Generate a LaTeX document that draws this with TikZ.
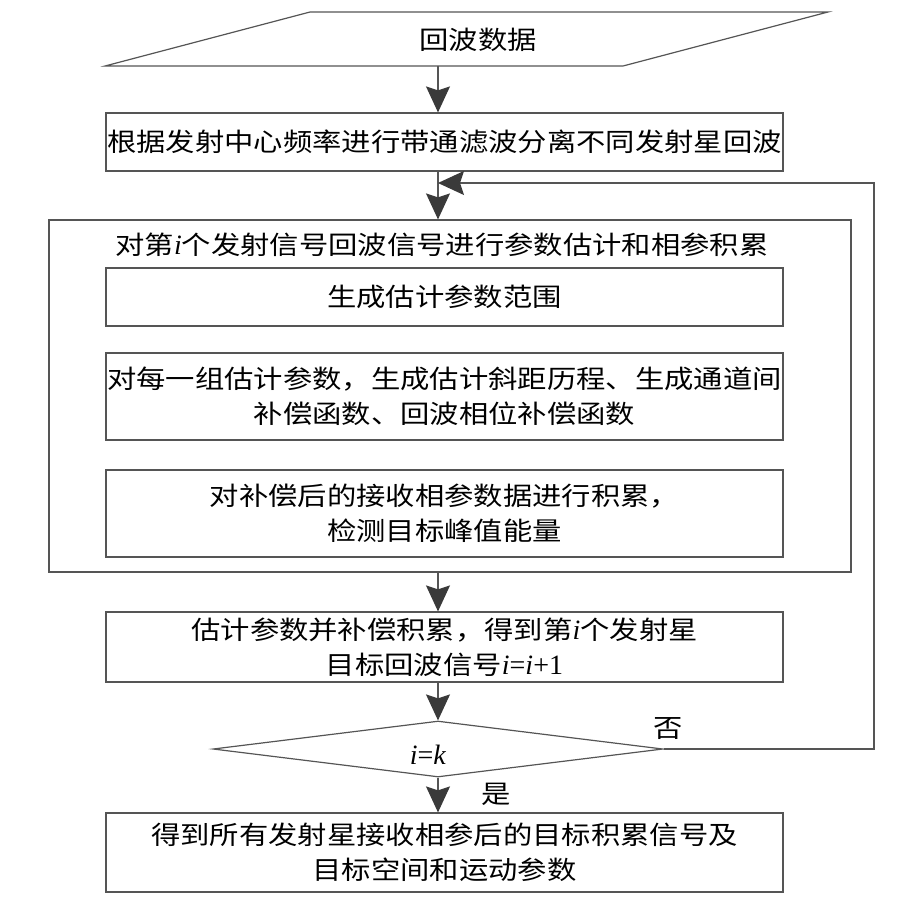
\documentclass[tikz,border=0pt]{standalone}
\usepackage{fontspec}
\setmainfont[FakeStretch=1.15]{Noto Sans CJK SC}
\newfontfamily\latf{Liberation Serif}
\usetikzlibrary{arrows.meta,shapes.geometric}
\definecolor{linegray}{HTML}{555555}
\definecolor{tipgray}{HTML}{3A3A3A}
\newcommand\latin[1]{{\latf\fontsize{28}{35}\selectfont#1}}
\begin{document}
\begin{tikzpicture}[x=1pt,y=-1pt,line width=1.2pt,font=\fontsize{25.5}{35}\selectfont,
	box/.style={draw=linegray,minimum width=677pt,inner sep=0pt,align=center},
	arr/.style={draw=linegray,-{Stealth[length=26pt,width=24pt,inset=4pt,color=tipgray]}}]
	\useasboundingbox (0,0) rectangle (917,906);
	\draw[linegray] (105,66)--(310,12)--(828,12)--(623,66)--cycle;
	\node (data) at (478,40) {回波数据};
	\coordinate (dataS) at (438,66);
	\node[box,minimum height=58pt] (split) at (444.5,142) {根据发射中心频率进行带通滤波分离不同发射星回波};
	\node[box,minimum width=802pt,minimum height=352pt] (loop) at (450,396) {};
	\node (ttl) at (442,245) {对第\latin{\textit{i}}个发射信号回波信号进行参数估计和相参积累};
	\node[box,minimum height=58pt] (range) at (444.5,297) {生成估计参数范围};
	\node[box,minimum height=87pt] (hist) at (444.5,396.5) {对每一组估计参数，生成估计斜距历程、生成通道间\\补偿函数、回波相位补偿函数};
	\node[box,minimum height=87pt] (accu) at (444.5,513.5) {对补偿后的接收相参数据进行积累，\\检测目标峰值能量};
	\node[box,minimum height=70pt] (est) at (444.5,647) {估计参数并补偿积累，得到第\latin{\textit{i}}个发射星\\目标回波信号\latin{\textit{i}=\textit{i}+1}};
	\node[draw=linegray,diamond,minimum width=450pt,minimum height=56pt,inner sep=0pt] (dec) at (438,749) {};
	\node (cond) at (428,755) {\latin{\textit{i}=\textit{k}}};
	\node[box,minimum height=79pt] (final) at (444.5,852.5) {得到所有发射星接收相参后的目标积累信号及\\目标空间和运动参数};
	\node (no) at (668,729) {否};
	\node (yes) at (496,794) {是};
	\coordinate (rt) at (874,183);
	\draw[arr] (dataS) -- (split.north -| dataS);
	\draw[arr] (split.south -| dataS) -- (loop.north -| dataS);
	\draw[arr] (loop.south -| dataS) -- (est.north -| dataS);
	\draw[arr] (est.south -| dataS) -- (dec.north);
	\draw[arr] (dec.south) -- (final.north -| dec.south);
	\draw[arr] (dec.east) -| (rt) -- (rt -| dataS);
\end{tikzpicture}
\end{document}
